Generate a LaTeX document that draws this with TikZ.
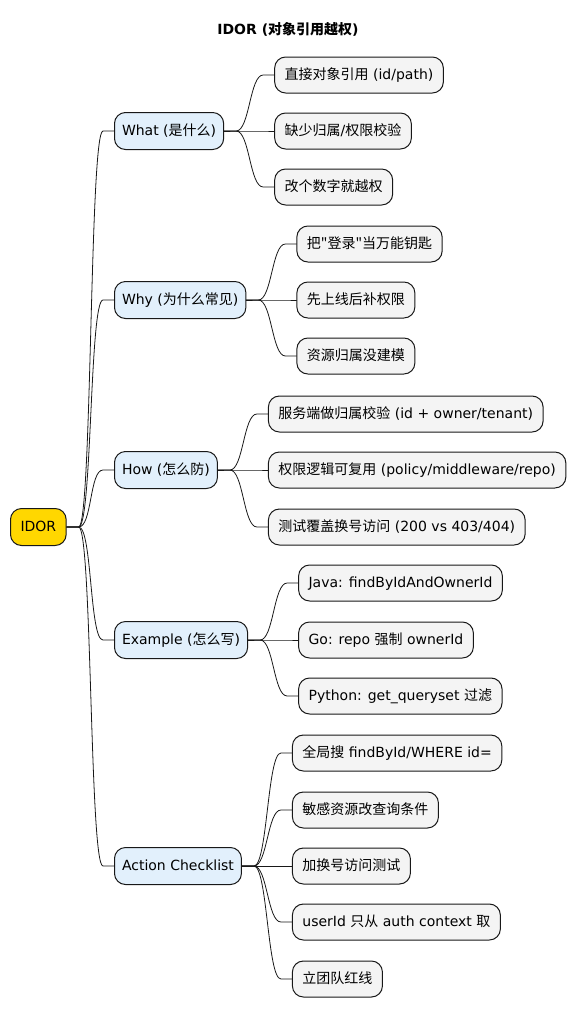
\documentclass[tikz,border=0pt]{standalone}
\usepackage{fontspec}
\setmainfont{DejaVu Sans}
\newfontfamily\zhfont{Noto Sans CJK SC}
\newcommand\zh[1]{{\zhfont#1}}
\usetikzlibrary{positioning}
\definecolor{rootfill}{HTML}{FFD700}
\definecolor{topicfill}{HTML}{E2F0FC}
\definecolor{leaffill}{HTML}{F4F4F4}
\definecolor{edge}{HTML}{181818}
\tikzset{
	box/.style={draw=edge,line width=1pt,rounded corners=11pt,inner xsep=10pt,inner ysep=0pt,
		minimum height=36pt,text height=11pt,text depth=3pt,font=\fontsize{14}{16}\selectfont},
	rootbox/.style={box,fill=rootfill,minimum height=37pt},
	topic/.style={box,fill=topicfill,minimum height=37pt,inner xsep=7.5pt,anchor=west},
	leaf/.style={box,fill=leaffill,anchor=west},
	branch/.style={draw=edge,line width=0.8pt}
}
\newcommand\fork[2]{\draw[branch] (#1.east) -- ++(12,0) .. controls +(13.5,0) and +(-13.5,0) .. ([xshift=-11pt]#2.west) -- (#2.west);}
\begin{document}
\begin{tikzpicture}[x=1pt,y=-1pt,line join=round,line cap=round]
	\useasboundingbox (0,0) rectangle (576,1018);
	\node[font=\fontsize{14}{16}\selectfont\bfseries] (title) at (288,29) {IDOR (\zh{对象引用越权})};
	\node[rootbox,anchor=west] (idor) at (10,527) {IDOR};
	% first level
	\node[topic] (what) at (114,131) {What (\zh{是什么})};
	\node[topic] (why) at (114,300) {Why (\zh{为什么常见})};
	\node[topic] (how) at (114,470) {How (\zh{怎么防})};
	\node[topic] (ex) at (114,640) {Example (\zh{怎么写})};
	\node[topic] (act) at (114,866) {Action Checklist};
	% leaves
	\node[leaf] (what1) at ([xshift=50pt]what.east |- 0,75) {\zh{直接对象引用} (id/path)};
	\node[leaf] (what2) at ([xshift=50pt]what.east |- 0,131) {\zh{缺少归属}/\zh{权限校验}};
	\node[leaf] (what3) at ([xshift=50pt]what.east |- 0,187) {\zh{改个数字就越权}};
	\node[leaf] (why1) at ([xshift=50pt]why.east |- 0,244) {\zh{把"登录"当万能钥匙}};
	\node[leaf] (why2) at ([xshift=50pt]why.east |- 0,300) {\zh{先上线后补权限}};
	\node[leaf] (why3) at ([xshift=50pt]why.east |- 0,356) {\zh{资源归属没建模}};
	\node[leaf] (how1) at ([xshift=50pt]how.east |- 0,414) {\zh{服务端做归属校验} (id + owner/tenant)};
	\node[leaf] (how2) at ([xshift=50pt]how.east |- 0,470) {\zh{权限逻辑可复用} (policy/middleware/repo)};
	\node[leaf] (how3) at ([xshift=50pt]how.east |- 0,527) {\zh{测试覆盖换号访问} (200 vs 403/404)};
	\node[leaf] (ex1) at ([xshift=50pt]ex.east |- 0,583) {Java: findByIdAndOwnerId};
	\node[leaf] (ex2) at ([xshift=50pt]ex.east |- 0,640) {Go: repo \zh{强制} ownerId};
	\node[leaf] (ex3) at ([xshift=50pt]ex.east |- 0,696) {Python: get\_queryset \zh{过滤}};
	\node[leaf] (act1) at ([xshift=50pt]act.east |- 0,753) {\zh{全局搜} findById/WHERE id=};
	\node[leaf] (act2) at ([xshift=50pt]act.east |- 0,810) {\zh{敏感资源改查询条件}};
	\node[leaf] (act3) at ([xshift=50pt]act.east |- 0,866) {\zh{加换号访问测试}};
	\node[leaf] (act4) at ([xshift=50pt]act.east |- 0,922) {userId \zh{只从} auth context \zh{取}};
	\node[leaf] (act5) at ([xshift=50pt]act.east |- 0,979) {\zh{立团队红线}};
	% connectors
	\foreach \t in {what,why,how,ex,act} \fork{idor}{\t};
	\foreach \i in {1,2,3} {\fork{what}{what\i} \fork{why}{why\i} \fork{how}{how\i} \fork{ex}{ex\i}}
	\foreach \i in {1,...,5} \fork{act}{act\i};
\end{tikzpicture}
\end{document}
